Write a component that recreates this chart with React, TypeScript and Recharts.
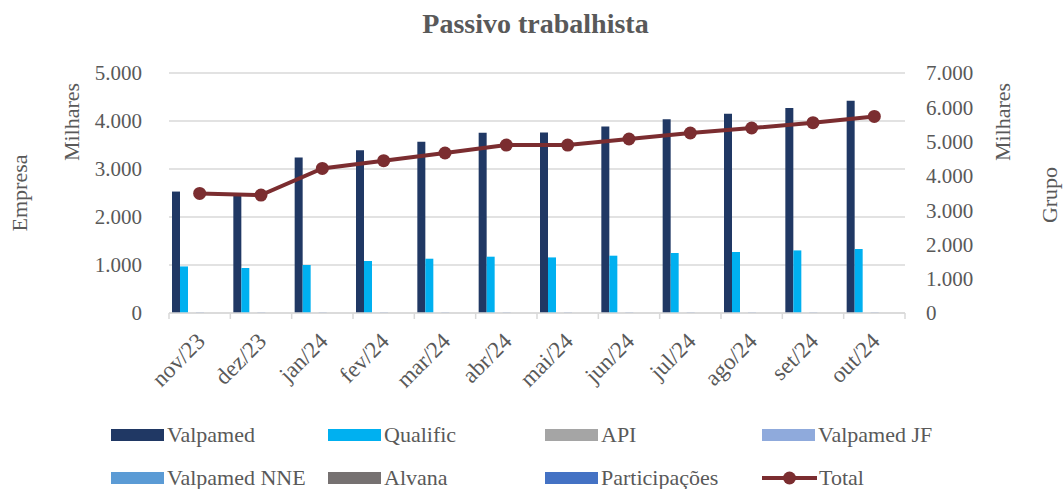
import React from "react";
import {
  ComposedChart,
  Bar,
  Line,
  XAxis,
  YAxis,
  CartesianGrid,
} from "recharts";

const months = [
  "nov/23", "dez/23", "jan/24", "fev/24", "mar/24", "abr/24",
  "mai/24", "jun/24", "jul/24", "ago/24", "set/24", "out/24",
];
const valpamed = [2530, 2480, 3240, 3390, 3570, 3755, 3763, 3888, 4034, 4152, 4270, 4423];
const qualific = [970, 937, 1000, 1083, 1131, 1173, 1158, 1194, 1250, 1271, 1304, 1333];
const api = [0, 0, 0, 0, 0, 0, 0, 0, 0, 0, 0, 0];
const valpamedJF = [15, 15, 15, 15, 15, 15, 15, 15, 15, 15, 15, 15];
const valpamedNNE = [0, 0, 0, 0, 0, 0, 0, 0, 0, 0, 0, 0];
const alvana = [0, 0, 0, 0, 0, 0, 0, 0, 0, 0, 0, 0];
const participacoes = [0, 0, 0, 0, 0, 0, 0, 0, 0, 0, 0, 0];
const total = [3488, 3440, 4217, 4442, 4666, 4899, 4899, 5075, 5250, 5395, 5550, 5734];

const leftTicks = [0, 1000, 2000, 3000, 4000, 5000];
const rightTicks = [0, 1000, 2000, 3000, 4000, 5000, 6000, 7000];
const boundaryTicks = [0, 1, 2, 3, 4, 5, 6, 7, 8, 9, 10, 11, 12];

const barSeries = [
  { key: "valpamed", name: "Valpamed", color: "#203864", values: valpamed },
  { key: "qualific", name: "Qualific", color: "#00B0F0", values: qualific },
  { key: "api", name: "API", color: "#A5A5A5", values: api },
  { key: "valpamedJF", name: "Valpamed JF", color: "#8FAADC", values: valpamedJF },
  { key: "valpamedNNE", name: "Valpamed NNE", color: "#5B9BD5", values: valpamedNNE },
  { key: "alvana", name: "Alvana", color: "#767171", values: alvana },
  { key: "participacoes", name: "Participações", color: "#4472C4", values: participacoes },
];
const totalColor = "#7B2D30";

const data = months.map((m, i) => {
  const row: Record<string, any> = { month: m, idx: i + 0.5, total: total[i] };
  barSeries.forEach((s) => (row[s.key] = s.values[i]));
  return row;
});

const font = "'Liberation Serif', 'DejaVu Serif', serif";
const textColor = "#595959";
const gridColor = "#D9D9D9";

const fmt = (v: number) => String(v).replace(/\B(?=(\d{3})+(?!\d))/g, ".");

const MonthTick = (props: any) => {
  const { x, y, payload } = props;
  return (
    <g transform={`translate(${x + 1},${y})`}>
      <text
        transform="rotate(-45)"
        textAnchor="end"
        dy="0.35em"
        fill={textColor}
        fontSize={23}
        fontFamily={font}
      >
        {payload.value}
      </text>
    </g>
  );
};

const EmptyTick = () => <g />;

const vLabel = (text: string, cx: number, cy: number) => (
  <div
    style={{
      position: "absolute",
      left: cx,
      top: cy,
      transform: "translate(-50%, -50%) rotate(-90deg)",
      whiteSpace: "nowrap",
      fontSize: 22,
      lineHeight: "22px",
      color: textColor,
      fontFamily: font,
    }}
  >
    {text}
  </div>
);

const legendItems = [
  ...barSeries.map((s) => ({ name: s.name, color: s.color, line: false })),
  { name: "Total", color: totalColor, line: true },
];

export default function App() {
  return (
    <div
      style={{
        position: "absolute",
        left: 0,
        top: 0,
        width: 1063,
        height: 489,
        background: "#fff",
        overflow: "hidden",
        fontFamily: font,
      }}
    >
      <div
        style={{
          position: "absolute",
          left: 4,
          width: 1063,
          top: 8,
          textAlign: "center",
          fontSize: 28,
          fontWeight: "bold",
          color: textColor,
        }}
      >
        Passivo trabalhista
      </div>
      {vLabel("Empresa", 20, 193)}
      {vLabel("Milhares", 72, 122)}
      {vLabel("Milhares", 1003, 122)}
      {vLabel("Grupo", 1050, 195)}

      <div style={{ position: "absolute", left: 0, top: 0 }}>
        <ComposedChart
          width={1063}
          height={410}
          data={data}
          margin={{ top: 73, right: 0, bottom: 0, left: 0 }}
          barCategoryGap={3}
          barGap={0}
        >
          <CartesianGrid
            yAxisId="left"
            vertical={false}
            stroke={gridColor}
            strokeWidth={1.5}
          />
          {/* boundary tick marks, Excel style (between categories) */}
          <XAxis
            xAxisId={0}
            type="number"
            dataKey="idx"
            domain={[0, 12]}
            ticks={boundaryTicks}
            tick={<EmptyTick />}
            tickSize={6}
            height={1}
            axisLine={{ stroke: gridColor, strokeWidth: 1.5 }}
            tickLine={{ stroke: gridColor, strokeWidth: 1.5 }}
          />
          <XAxis
            xAxisId={1}
            dataKey="month"
            height={96}
            axisLine={false}
            tickLine={false}
            tick={<MonthTick />}
            tickMargin={17}
            interval={0}
          />
          <YAxis
            yAxisId="left"
            width={169}
            domain={[0, 5000]}
            ticks={leftTicks}
            tickFormatter={fmt}
            axisLine={false}
            tickLine={false}
            tickSize={0}
            tickMargin={27}
            tick={{ fill: textColor, fontSize: 21, fontFamily: font }}
          />
          <YAxis
            yAxisId="right"
            orientation="right"
            width={158}
            domain={[0, 7000]}
            ticks={rightTicks}
            tickFormatter={fmt}
            axisLine={false}
            tickLine={false}
            tickSize={0}
            tickMargin={21}
            tick={{ fill: textColor, fontSize: 21, fontFamily: font, textAnchor: "start" }}
          />
          {barSeries.map((s) => (
            <Bar
              key={s.key}
              xAxisId={1}
              yAxisId="left"
              dataKey={s.key}
              name={s.name}
              fill={s.color}
              isAnimationActive={false}
            />
          ))}
          <Line
            xAxisId={1}
            yAxisId="right"
            dataKey="total"
            name="Total"
            stroke={totalColor}
            strokeWidth={4}
            dot={{ r: 6.5, fill: totalColor, stroke: totalColor, strokeWidth: 0 }}
            activeDot={false}
            isAnimationActive={false}
          />
        </ComposedChart>
      </div>

      {legendItems.map((it, i) => {
        const col = i % 4;
        const row = Math.floor(i / 4);
        const left = 111 + col * 217;
        const cy = 435 + row * 43;
        return (
          <div
            key={it.name}
            style={{
              position: "absolute",
              left,
              top: cy - 14,
              height: 28,
              display: "flex",
              alignItems: "center",
              whiteSpace: "nowrap",
              fontSize: 22,
              color: textColor,
            }}
          >
            {it.line ? (
              <svg width={55} height={16} style={{ marginRight: 2 }}>
                <line x1={0} x2={55} y1={8} y2={8} stroke={it.color} strokeWidth={4} />
                <circle cx={27.5} cy={8} r={6.5} fill={it.color} />
              </svg>
            ) : (
              <div style={{ width: 53, height: 12, background: it.color, marginRight: 3 }} />
            )}
            <span>{it.name}</span>
          </div>
        );
      })}
    </div>
  );
}
